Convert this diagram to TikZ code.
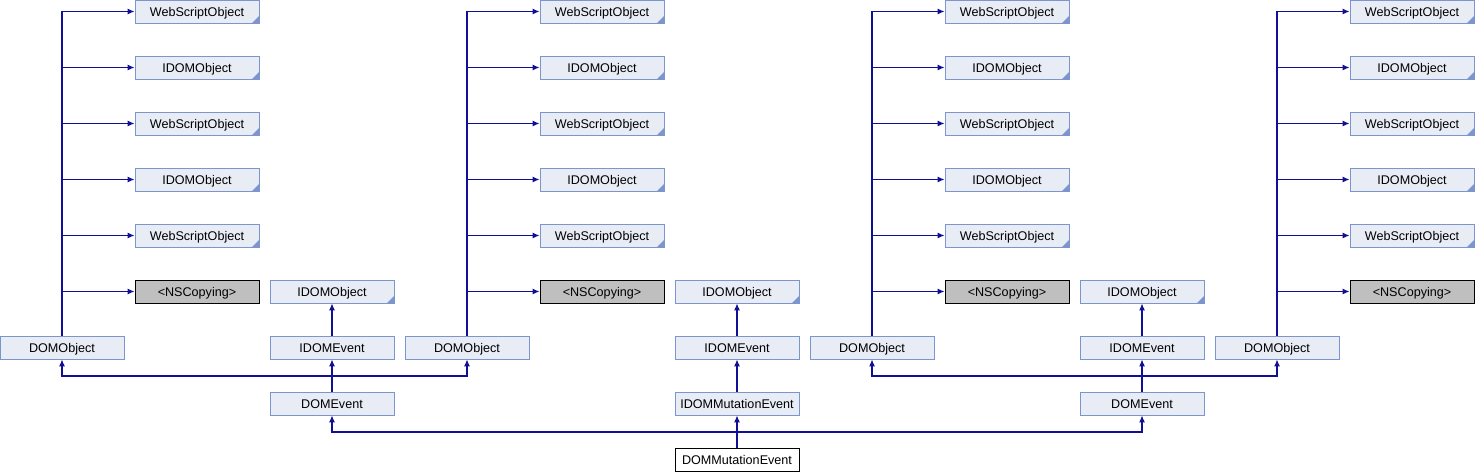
\documentclass[tikz,border=0pt]{standalone}
\usepackage{fontspec}
\setmainfont{Liberation Sans}
\usetikzlibrary{arrows.meta,calc}
\definecolor{boxfill}{RGB}{232,236,245}
\definecolor{boxdraw}{RGB}{124,149,206}
\definecolor{edgecol}{RGB}{16,16,148}
\definecolor{grayfill}{RGB}{191,191,191}
\tikzset{
  box/.style={draw=boxdraw, fill=boxfill, line width=0.9pt, minimum width=124pt, minimum height=23pt, inner sep=0pt, text height=11pt, text depth=2pt, font=\fontsize{12.6}{15}\selectfont},
  ext/.style={box, path picture={\fill[boxdraw] (path picture bounding box.south east) -- ++(-7pt,0) -- ++(7pt,7pt) -- cycle;}},
  graybox/.style={box, draw=black, fill=grayfill},
  mainbox/.style={box, draw=black, fill=white},
  edge/.style={draw=edgecol, line width=1.1pt, -{Latex[length=7pt,width=6pt]}}
}
\begin{document}
\begin{tikzpicture}[x=1pt,y=1pt]
\useasboundingbox (0,0) rectangle (1475,-472);
% four DOMObject columns
\foreach \i/\dx/\tx in {1/62/197, 2/467/602, 3/872/1007, 4/1277/1412}{
  \node[box] (dom\i) at (\dx,-347.5) {DOMObject};
  \node[ext] (w\i a) at (\tx,-11.5) {WebScriptObject};
  \node[ext] (o\i a) at (\tx,-67.5) {IDOMObject};
  \node[ext] (w\i b) at (\tx,-123.5) {WebScriptObject};
  \node[ext] (o\i b) at (\tx,-179.5) {IDOMObject};
  \node[ext] (w\i c) at (\tx,-235.5) {WebScriptObject};
  \node[graybox] (ns\i) at (\tx,-291.5) {<NSCopying>};
  \foreach \t in {w\i a, o\i a, w\i b, o\i b, w\i c, ns\i}{
    \draw[edge] (dom\i.north) |- (\t.west);
  }
}
% left event chain
\node[ext] (ioL) at (332,-291.5) {IDOMObject};
\node[box] (ieL) at (332,-347.5) {IDOMEvent};
\node[box] (deL) at (332,-403.5) {DOMEvent};
% middle chain
\node[ext] (ioM) at (737,-291.5) {IDOMObject};
\node[box] (ieM) at (737,-347.5) {IDOMEvent};
\node[box] (imM) at (737,-403.5) {IDOMMutationEvent};
\node[mainbox] (dme) at (737,-459.5) {DOMMutationEvent};
% right chain
\node[ext] (ioR) at (1142,-291.5) {IDOMObject};
\node[box] (ieR) at (1142,-347.5) {IDOMEvent};
\node[box] (deR) at (1142,-403.5) {DOMEvent};
\coordinate (busA) at (0,-376);
\coordinate (busB) at (0,-432);
\draw[edge] (ieL.north) -- (ioL.south);
\draw[edge] (ieM.north) -- (ioM.south);
\draw[edge] (ieR.north) -- (ioR.south);
\draw[edge] (deL.north) -- (ieL.south);
\draw[edge] (imM.north) -- (ieM.south);
\draw[edge] (deR.north) -- (ieR.south);
\draw[edge] (deL.north) -- (deL.north |- busA) -| (dom1.south);
\draw[edge] (deL.north) -- (deL.north |- busA) -| (dom2.south);
\draw[edge] (deR.north) -- (deR.north |- busA) -| (dom3.south);
\draw[edge] (deR.north) -- (deR.north |- busA) -| (dom4.south);
\draw[edge] (dme.north) -- (imM.south);
\draw[edge] (dme.north) -- (dme.north |- busB) -| (deL.south);
\draw[edge] (dme.north) -- (dme.north |- busB) -| (deR.south);
\end{tikzpicture}
\end{document}
